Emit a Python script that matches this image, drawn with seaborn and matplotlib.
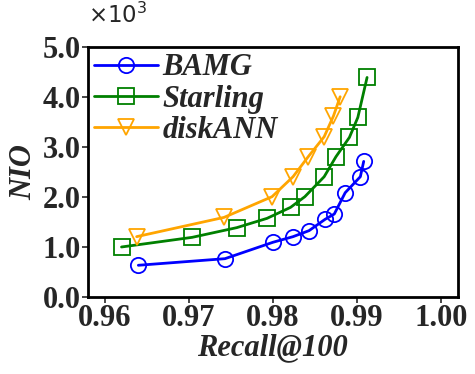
import numpy as np
import pandas as pd
import seaborn as sns
import matplotlib.pyplot as plt
from matplotlib import ticker

sns.set_style('ticks')
plt.rcParams['font.family'] = ['Liberation Serif', 'DejaVu Sans']
plt.rcParams['mathtext.fontset'] = 'dejavusans'

# data (NIO in raw counts)
bamg_recall = [0.9640, 0.9743, 0.9800, 0.9824, 0.9843, 0.9862, 0.9873, 0.9886, 0.9904, 0.9908]
bamg_nio = [634, 766, 1094, 1207, 1327, 1553, 1660, 2087, 2407, 2713]

starling_recall = [0.9620, 0.9704, 0.9757, 0.9793, 0.9821, 0.9838, 0.9861, 0.9875, 0.9891, 0.9901, 0.9912]
starling_nio = [1000, 1193, 1387, 1573, 1793, 2007, 2407, 2807, 3193, 3593, 4393]

diskann_recall = [0.9638, 0.9742, 0.9799, 0.9824, 0.9842, 0.9861, 0.9872, 0.9880]
diskann_nio = [1207, 1593, 2007, 2407, 2807, 3207, 3620, 4007]

series = [('BAMG', bamg_recall, bamg_nio, 'blue', 'o'),
          ('Starling', starling_recall, starling_nio, 'green', 's'),
          ('diskANN', diskann_recall, diskann_nio, 'orange', 'v')]

fig, ax = plt.subplots(figsize=(4.75, 3.74), dpi=100)

for name, xs, ys, col, mk in series:
    d = pd.DataFrame({'Recall@100': xs, 'NIO': ys})
    sns.lineplot(data=d, x='Recall@100', y='NIO', ax=ax, color=col, marker=mk,
                 markersize=11, markerfacecolor='none', markeredgecolor=col,
                 markeredgewidth=1.3, linewidth=2.0, label=name, sort=False)

ax.set_xlim(0.958, 1.002)
ax.set_ylim(0, 5000)
ax.set_xticks([0.96, 0.97, 0.98, 0.99, 1.00])
ax.set_xticklabels(['0.96', '0.97', '0.98', '0.99', '1.00'])
ax.set_yticks([0, 1000, 2000, 3000, 4000, 5000])
ax.yaxis.set_major_formatter(ticker.FuncFormatter(lambda v, p: '%.1f' % (v / 1000)))
ax.text(0.0, 1.075, r'$\times10^{3}$', transform=ax.transAxes, fontsize=16.5,
        ha='left', va='bottom')

for lab in ax.get_xticklabels() + ax.get_yticklabels():
    lab.set_fontsize(22)
    lab.set_fontweight('bold')

ax.set_xlabel('Recall@100', fontsize=22, fontweight='bold', fontstyle='italic', labelpad=0)
ax.set_ylabel('NIO', fontsize=22, fontweight='bold', fontstyle='italic', labelpad=3)

for sp in ax.spines.values():
    sp.set_linewidth(2)
    sp.set_color('black')
ax.tick_params(width=1.2, length=4, pad=1)

ax.legend(loc='upper left', frameon=False, handlelength=2.1, borderaxespad=0.05,
          labelspacing=0.08, handletextpad=0.15, borderpad=0.15,
          prop={'family': 'Liberation Serif', 'weight': 'bold', 'style': 'italic', 'size': 22})

fig.subplots_adjust(left=0.185, right=0.964, bottom=0.206, top=0.874)
fig.savefig('out.png', dpi=100)
